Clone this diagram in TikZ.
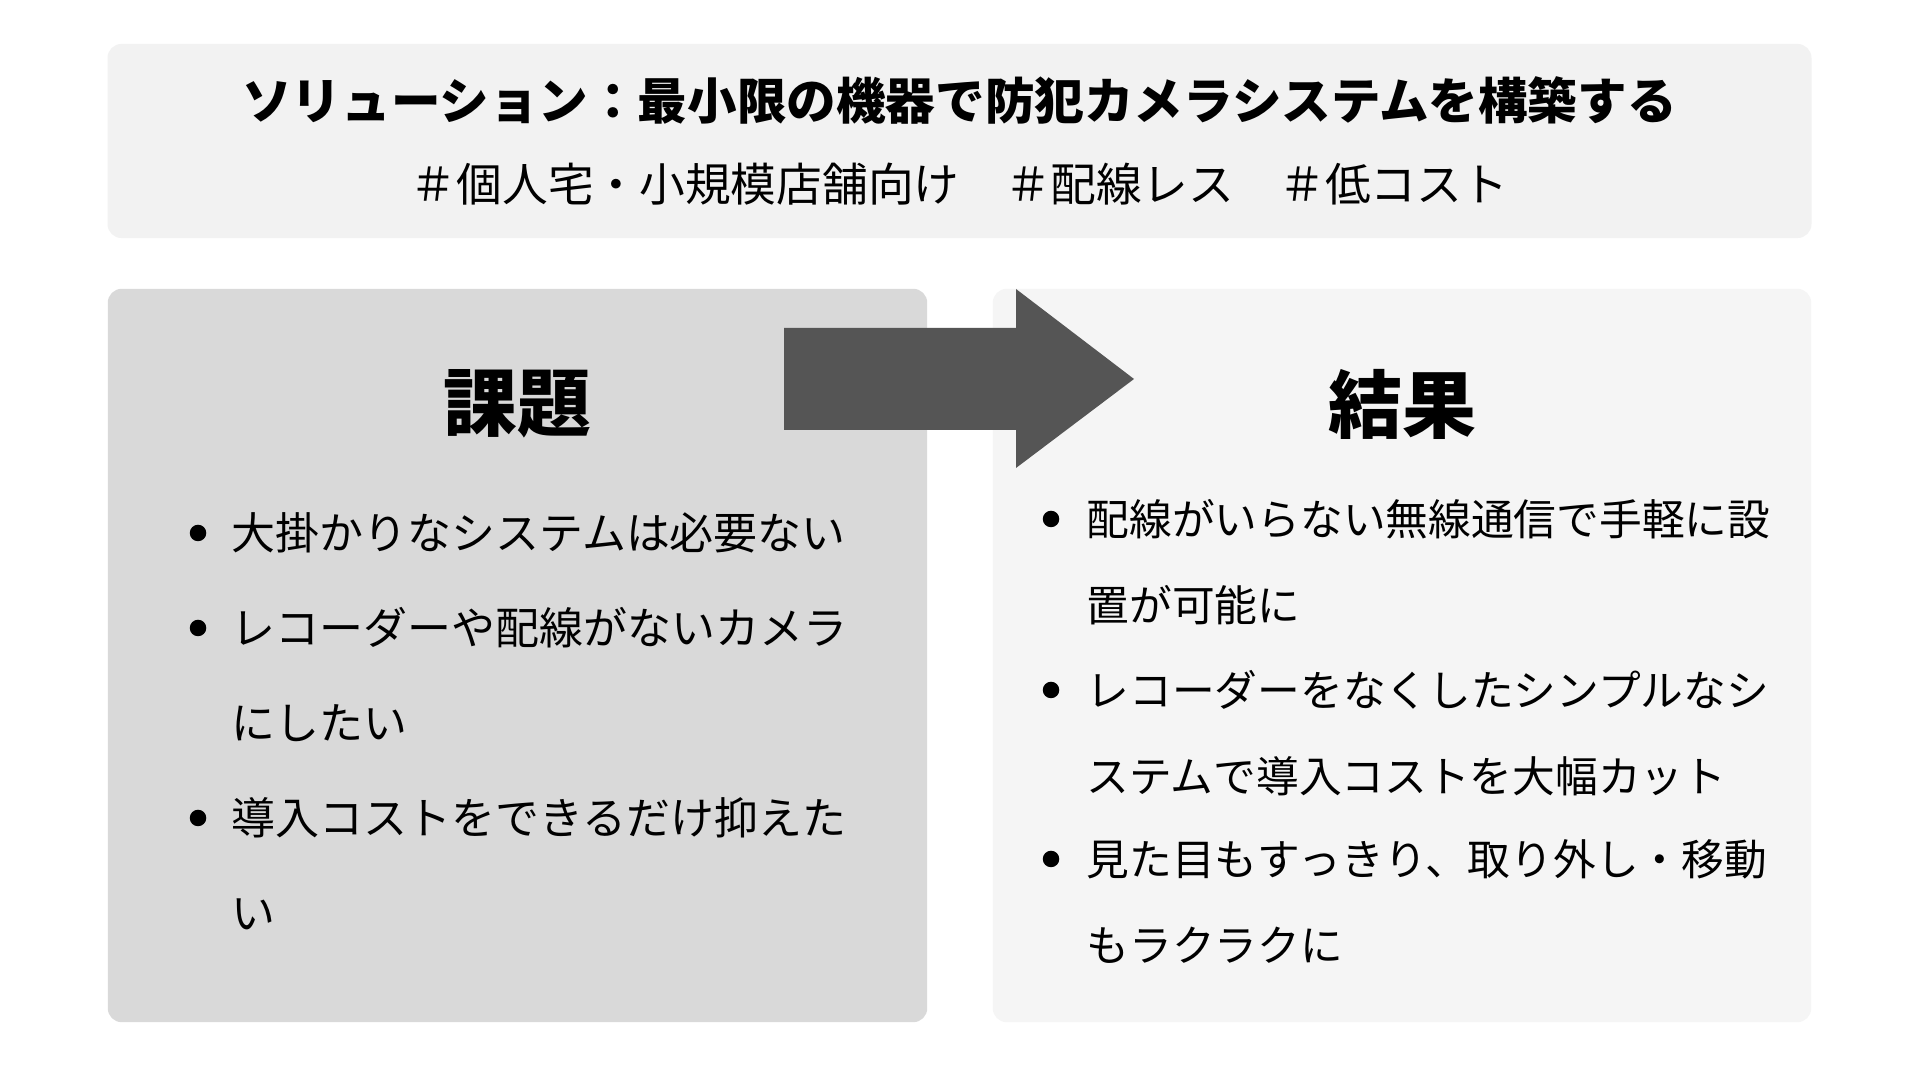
\documentclass[tikz,border=0pt]{standalone}
\usepackage{fontspec}
\setmainfont{Noto Sans CJK JP}
\newfontfamily\heavyfont{Noto Sans CJK JP Black}
\usepackage{xcolor}
\usetikzlibrary{positioning}
\definecolor{headgray}{HTML}{F2F2F2}
\definecolor{issuegray}{HTML}{D9D9D9}
\definecolor{resultgray}{HTML}{F5F5F5}
\definecolor{arrowgray}{HTML}{555555}
\tikzset{
  panel/.style={rounded corners=4pt, inner sep=0pt, draw=none},
  dot/.style={circle, fill=black, inner sep=0pt, minimum size=0.165cm},
  heading/.style={inner sep=0pt, font=\fontsize{21}{25}\selectfont\heavyfont},
  issue/.style={anchor=base west, align=left, inner sep=0pt, text width=6.6cm,
    font=\fontsize{12.5}{27}\selectfont},
  result/.style={anchor=base west, align=left, inner sep=0pt, text width=7.2cm,
    font=\fontsize{12.15}{24.2}\selectfont},
}

\begin{document}
\begin{tikzpicture}[x=0.01cm, y=-0.01cm]
  \useasboundingbox[fill=white] (0,0) rectangle (1920,1080);

  % panels
  \node[panel, fill=headgray, minimum width=17.03cm, minimum height=1.94cm]
    (top) at (959.5,141) {};
  \node[panel, fill=issuegray, minimum width=8.19cm, minimum height=7.33cm]
    (issues) at (517.5,655.5) {};
  \node[panel, fill=resultgray, minimum width=8.18cm, minimum height=7.33cm]
    (results) at (1402,655.5) {};

  % block arrow
  \fill[arrowgray] (784,328) -- (1016,328) -- (1016,289) -- (1134,379)
    -- (1016,468) -- (1016,430) -- (784,430) -- cycle;

  % title
  \node[inner sep=0pt, font=\fontsize{14.1}{17}\selectfont\heavyfont]
    (title) at (959.5,100) {ソリューション：最小限の機器で防犯カメラシステムを構築する};
  \node[inner sep=0pt, font=\fontsize{13}{16}\selectfont]
    (tags) at (959.5,184) {＃個人宅・小規模店舗向け　＃配線レス　＃低コスト};

  % left side
  \node[heading] (issuehead) at (517.5,404) {課題};
  \node[issue] (i1) at (231,550) {大掛かりなシステムは必要ない};
  \node[issue] (i2) at (231,645) {レコーダーや配線がないカメラ\\にしたい};
  \node[issue] (i3) at (231,835) {導入コストをできるだけ抑えた\\い};
  \foreach \n in {1,2,3}
    \node[dot, left=0.24cm of i\n.base west, yshift=0.17cm] (di\n) {};

  % right side
  \node[heading] (resulthead) at (1402,404) {結果};
  \node[result] (r1) at (1086,536) {配線がいらない無線通信で手軽に設\\置が可能に};
  \node[result] (r2) at (1086,707) {レコーダーをなくしたシンプルなシ\\ステムで導入コストを大幅カット};
  \node[result] (r3) at (1086,876) {見た目もすっきり、取り外し・移動\\もラクラクに};
  \foreach \n in {1,2,3}
    \node[dot, left=0.26cm of r\n.base west, yshift=0.17cm] (dr\n) {};
\end{tikzpicture}
\end{document}
